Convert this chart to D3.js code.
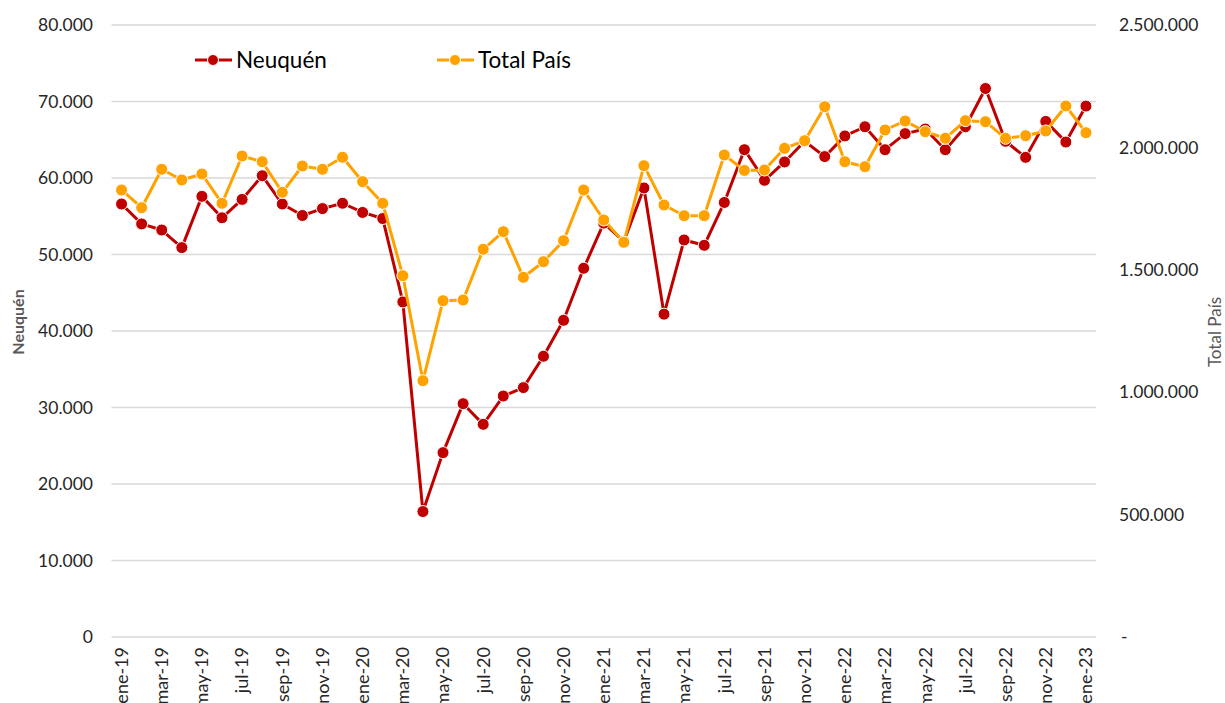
<!DOCTYPE html>
<html><head><meta charset="utf-8">
<script src="https://cdn.jsdelivr.net/npm/d3@7/dist/d3.min.js"></script>
<style>
body{margin:0;background:#fff;}
svg{display:block;font-family:Lato,"Open Sans",sans-serif;}
</style></head>
<body><svg id="c" width="1225" height="703"></svg>
<script>
const categories = ["ene-19","feb-19","mar-19","abr-19","may-19","jun-19","jul-19","ago-19","sep-19","oct-19","nov-19","dic-19",
"ene-20","feb-20","mar-20","abr-20","may-20","jun-20","jul-20","ago-20","sep-20","oct-20","nov-20","dic-20",
"ene-21","feb-21","mar-21","abr-21","may-21","jun-21","jul-21","ago-21","sep-21","oct-21","nov-21","dic-21",
"ene-22","feb-22","mar-22","abr-22","may-22","jun-22","jul-22","ago-22","sep-22","oct-22","nov-22","dic-22","ene-23"];
const neuquen = [56600,54000,53200,50900,57600,54800,57200,60300,56600,55100,56000,56700,
55500,54700,43800,16400,24100,30500,27800,31500,32600,36700,41400,48200,
54100,51700,58700,42200,51900,51200,56800,63700,59700,62100,64800,62800,
65500,66700,63700,65800,66400,63700,66700,71700,64800,62700,67400,64700,69400];
const totalPais = [1826000,1753700,1910600,1866900,1891400,1771600,1964900,1941600,1816600,1924000,1910600,1959600,
1860000,1771600,1476000,1047000,1373800,1376600,1583800,1655700,1469400,1533100,1618900,1826000,
1703400,1612300,1925300,1764700,1721000,1721000,1969000,1906000,1907700,1996300,2027400,2166300,
1941600,1921200,2071100,2107900,2064200,2037200,2109100,2105000,2037200,2047800,2067000,2169100,2060100];
const leftTicks = [0,10000,20000,30000,40000,50000,60000,70000,80000];
const rightTicks = [0,500000,1000000,1500000,2000000,2500000];
const seriesNames = ["Neuquén","Total País"];

const RED = "#C00000", ORANGE = "#FFA200", GRID = "#D9D9D9";
const svg = d3.select("#c");
const L = 111.5, R = 1096, T = 25, B = 637;
const fmt = d3.formatLocale({decimal:",",thousands:".",grouping:[3],currency:["$",""]}).format(",.0f");

const x = d3.scaleBand().domain(categories).range([L, R]);
const cx = c => x(c) + x.bandwidth()/2;
const yL = d3.scaleLinear().domain([0,80000]).range([B,T]);
const yR = d3.scaleLinear().domain([0,2500000]).range([B,T]);

// gridlines
svg.append("g").selectAll("line").data(leftTicks).join("line")
  .attr("x1",L).attr("x2",R).attr("y1",d=>yL(d)).attr("y2",d=>yL(d))
  .attr("stroke",GRID).attr("stroke-width",1.3);

// left axis labels
svg.append("g").selectAll("text").data(leftTicks).join("text")
  .attr("x",93).attr("y",d=>yL(d)).attr("dy","0.35em").attr("text-anchor","end")
  .attr("font-size",17.5).attr("fill","#262626").text(d=>fmt(d));

// right axis labels
svg.append("g").selectAll("text").data(rightTicks).join("text")
  .attr("x",d=>d===0?1121:1119).attr("y",d=>yR(d)).attr("dy","0.35em").attr("text-anchor","start")
  .attr("font-size",17.5).attr("fill","#262626").text(d=>d===0?"-":fmt(d));

// x labels
svg.append("g").selectAll("text").data(categories.filter((c,i)=>i%2===0)).join("text")
  .attr("transform",d=>`translate(${cx(d)},647) rotate(-90)`)
  .attr("dy","0.35em").attr("text-anchor","end")
  .attr("font-size",18).attr("fill","#262626").text(d=>d);

// axis titles
svg.append("text").attr("transform","translate(18.5,322) rotate(-90)").attr("dy","0.35em")
  .attr("text-anchor","middle").attr("font-size",16).attr("font-weight","bold").attr("fill","#595959").text(seriesNames[0]);
svg.append("text").attr("transform","translate(1215.5,332) rotate(-90)").attr("dy","0.35em")
  .attr("text-anchor","middle").attr("font-size",17).attr("fill","#595959").text(seriesNames[1]);

function drawSeries(vals, y, color){
  const line = d3.line().x((d,i)=>cx(categories[i])).y(d=>y(d));
  svg.append("path").datum(vals).attr("d",line).attr("fill","none")
    .attr("stroke",color).attr("stroke-width",3).attr("stroke-linejoin","round");
  svg.append("g").selectAll("circle").data(vals).join("circle")
    .attr("cx",(d,i)=>cx(categories[i])).attr("cy",d=>y(d)).attr("r",6)
    .attr("fill",color).attr("stroke","#fff").attr("stroke-width",1);
}
drawSeries(neuquen, yL, RED);
drawSeries(totalPais, yR, ORANGE);

// legend
const leg = [{name:seriesNames[0],color:RED,x:195},{name:seriesNames[1],color:ORANGE,x:437}];
const lg = svg.append("g").selectAll("g").data(leg).join("g").attr("transform",d=>`translate(${d.x},60)`);
lg.append("line").attr("x1",0).attr("x2",37).attr("stroke",d=>d.color).attr("stroke-width",3);
lg.append("circle").attr("cx",18).attr("r",5.5).attr("fill",d=>d.color).attr("stroke","#fff").attr("stroke-width",1);
lg.append("text").attr("x",41).attr("dy","0.35em").attr("font-size",22.5).attr("fill","#000").text(d=>d.name);
</script></body></html>
